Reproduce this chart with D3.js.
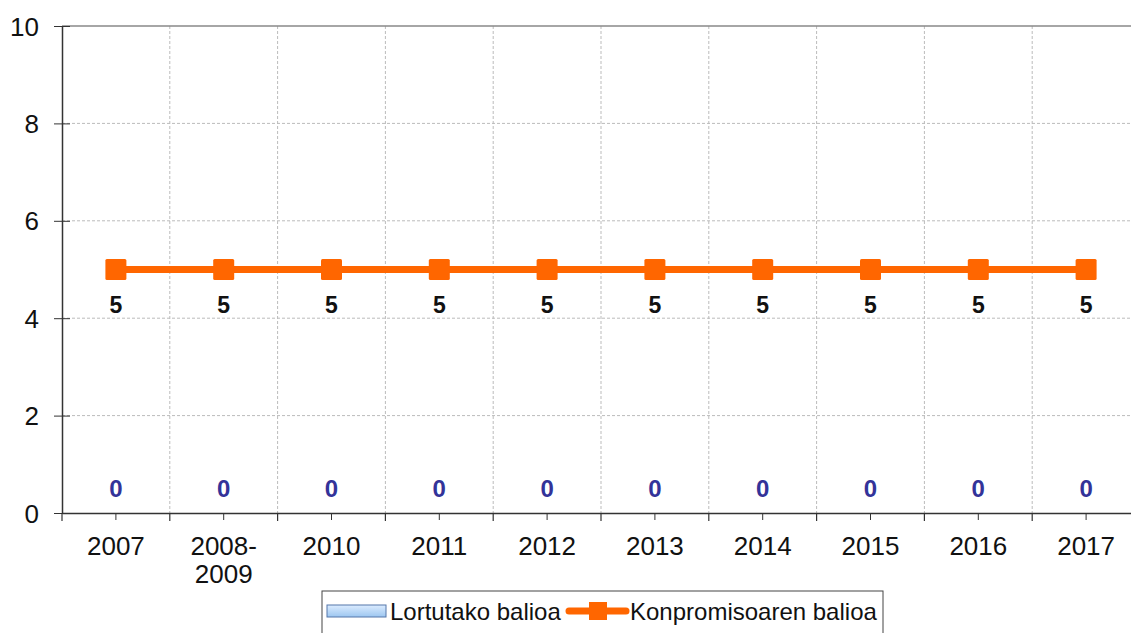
<!DOCTYPE html>
<html><head><meta charset="utf-8">
<script src="https://cdn.jsdelivr.net/npm/d3@7"></script>
<style>body{margin:0;background:#fff;overflow:hidden}svg{display:block;font-family:"Liberation Sans",Arial,sans-serif}</style>
</head><body>
<svg id="c" width="1131" height="633"></svg>
<script>
const categories = ["2007","2008-\n2009","2010","2011","2012","2013","2014","2015","2016","2017"];
const achieved = [0,0,0,0,0,0,0,0,0,0];
const commitment = [5,5,5,5,5,5,5,5,5,5];
const yTicks = [0,2,4,6,8,10];
const legendLabels = ["Lortutako balioa","Konpromisoaren balioa"];

(function(){
const FF = "Liberation Sans, Arial, sans-serif";
const svg = d3.select("#c");
const pL = 62, pR = 1140, pT = 26, pB = 513;
const x = d3.scaleBand().domain(categories).range([pL, pR]);
const y = d3.scaleLinear().domain([0,10]).range([pB, pT]);

// gridlines
const g = svg.append("g");
g.selectAll(".hg").data(yTicks.filter(d=>d>0 && d<10)).join("line")
  .attr("x1", pL).attr("x2", pR).attr("y1", d=>y(d)).attr("y2", d=>y(d))
  .attr("stroke","#bbb").attr("stroke-dasharray","3,2").attr("stroke-width",1);
g.selectAll(".vg").data(categories.slice(1)).join("line")
  .attr("x1", d=>x(d)).attr("x2", d=>x(d)).attr("y1", pT).attr("y2", pB)
  .attr("stroke","#bbb").attr("stroke-dasharray","3,2").attr("stroke-width",1);
svg.append("line").attr("x1",pL).attr("x2",pR).attr("y1",pT).attr("y2",pT).attr("stroke","#888").attr("stroke-width",1.5);

// y axis
const ya = svg.append("g").attr("transform",`translate(${pL},0)`)
  .call(d3.axisLeft(y).tickValues(yTicks).tickSize(8).tickSizeOuter(0));
ya.select(".domain").attr("stroke","#333").attr("stroke-width",1.5);
ya.selectAll(".tick line").attr("stroke","#333").attr("x2",8).attr("x1",-8);
ya.selectAll(".tick text").attr("font-size",26).attr("fill","#111").attr("x",-23).attr("dy","0.35em").attr("font-family",FF);

// x axis
const xa = svg.append("g").attr("transform",`translate(0,${pB})`)
  .call(d3.axisBottom(x).tickSize(7).tickSizeOuter(0).tickFormat(""));
xa.select(".domain").attr("stroke","#333").attr("stroke-width",1.5);
xa.selectAll(".tick line").attr("stroke","#333");
svg.append("g").selectAll("line").data(categories).join("line")
  .attr("x1", d=>x(d)).attr("x2", d=>x(d)).attr("y1", pB).attr("y2", pB+8)
  .attr("stroke","#333").attr("stroke-width",1.2);
xa.selectAll(".tick").each(function(d){
  const t = d3.select(this).append("text").attr("fill","#111").attr("font-size",26)
    .attr("text-anchor","middle").attr("font-family",FF);
  d.split("\n").forEach((s,i)=>t.append("tspan").attr("x",0).attr("y",42+i*28).text(s));
});

const cx = d => x(d) + x.bandwidth()/2;

// zero labels
svg.append("g").selectAll("text").data(categories).join("text")
  .attr("x", d=>cx(d)).attr("y", (d,i)=>y(achieved[i]) - 16)
  .attr("text-anchor","middle").attr("font-size",24).attr("font-weight","bold").attr("fill","#333399")
  .attr("font-family",FF).text((d,i)=>achieved[i]);

// commitment line
const line = d3.line().x((d,i)=>cx(categories[i])).y(d=>y(d));
svg.append("path").datum(commitment).attr("d",line).attr("fill","none")
  .attr("stroke","#FF6600").attr("stroke-width",7);
svg.append("g").selectAll("rect").data(commitment).join("rect")
  .attr("x",(d,i)=>cx(categories[i])-10.5).attr("y",d=>y(d)-10.5).attr("width",21).attr("height",21)
  .attr("rx",1.5).attr("fill","#FF6600");
svg.append("g").selectAll("text").data(commitment).join("text")
  .attr("x",(d,i)=>cx(categories[i])).attr("y",d=>y(d)+43)
  .attr("text-anchor","middle").attr("font-size",23).attr("font-weight","bold").attr("fill","#111")
  .attr("font-family",FF).text(d=>d);

// legend
const lg = svg.append("g");
lg.append("rect").attr("x",322).attr("y",591).attr("width",561).attr("height",50)
  .attr("fill","#fff").attr("stroke","#444").attr("stroke-width",1);
const grad = svg.append("defs").append("linearGradient").attr("id","lgr").attr("x1",0).attr("x2",0).attr("y1",0).attr("y2",1);
grad.append("stop").attr("offset","0%").attr("stop-color","#dcecff");
grad.append("stop").attr("offset","100%").attr("stop-color","#9cc6f0");
lg.append("rect").attr("x",327).attr("y",605).attr("width",59).attr("height",12)
  .attr("fill","url(#lgr)").attr("stroke","#5577aa").attr("stroke-width",1);
lg.append("text").attr("x",390).attr("y",620).attr("font-size",24).attr("fill","#111").attr("font-family",FF).text(legendLabels[0]);
lg.append("line").attr("x1",569).attr("x2",626).attr("y1",611).attr("y2",611).attr("stroke","#FF6600").attr("stroke-width",7).attr("stroke-linecap","round");
lg.append("rect").attr("x",589).attr("y",602).attr("width",18).attr("height",18).attr("fill","#FF6600");
lg.append("text").attr("x",630).attr("y",620).attr("font-size",24).attr("fill","#111").attr("font-family",FF).text(legendLabels[1]);
})();
</script>
</body></html>
